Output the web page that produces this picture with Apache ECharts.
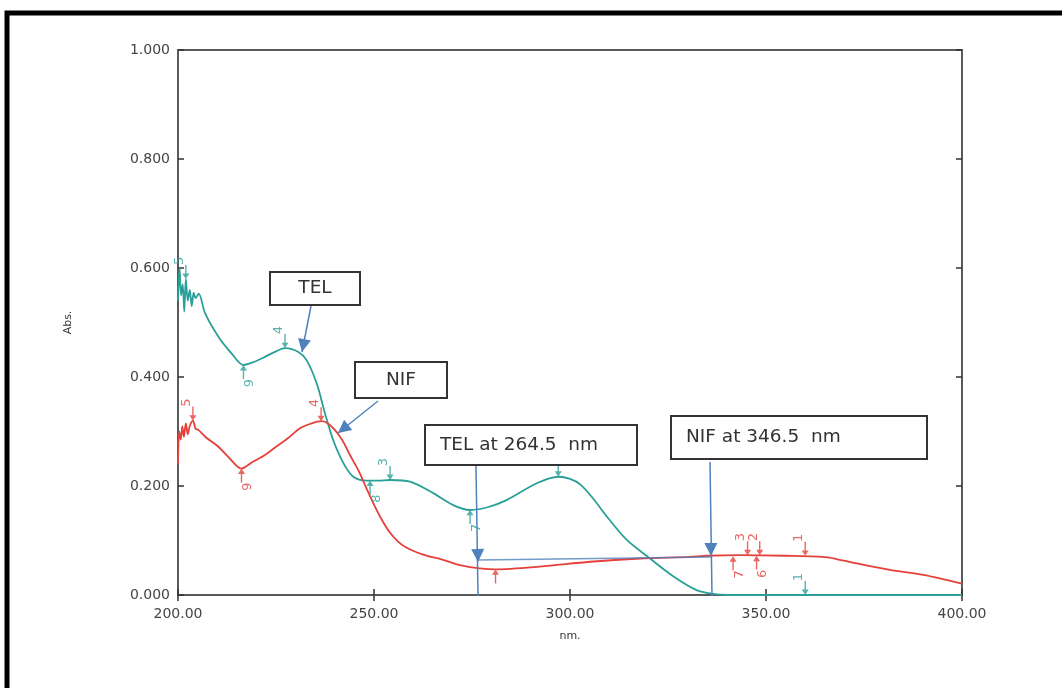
<!DOCTYPE html>
<html><head><meta charset="utf-8">
<script src="https://cdn.jsdelivr.net/npm/echarts@6/dist/echarts.min.js"></script>
<style>html,body{margin:0;padding:0;background:#fff}#c{width:1062px;height:688px}</style>
</head><body><div id="c"></div>
<script>
// ---- data ----
const xTicks = [200, 250, 300, 350, 400];
const yTicks = [0, 0.2, 0.4, 0.6, 0.8, 1.0];
const telX = [200,200.4,200.8,201.2,201.6,202,202.5,203,203.5,204,204.5,205.3,206.9,210.3,213.7,216.7,219.5,222.2,225,227.3,230.7,232.8,235.4,237.5,239.6,242.2,244.7,248.1,251,254.1,259.2,265.1,270.2,274.5,279,283.8,291.5,297,300,302.6,305.8,309.4,314.5,320.4,326.4,332.3,336.5,340,400];
const telY = [0.54,0.60,0.55,0.57,0.52,0.58,0.54,0.56,0.53,0.555,0.545,0.553,0.517,0.474,0.443,0.422,0.428,0.437,0.447,0.453,0.446,0.431,0.388,0.333,0.284,0.242,0.217,0.21,0.21,0.211,0.208,0.187,0.165,0.156,0.161,0.174,0.205,0.217,0.213,0.203,0.178,0.144,0.101,0.067,0.034,0.009,0.002,0,0];
const nifX = [200,200.3,200.7,201.1,201.5,202,202.5,203,203.8,204.5,205.2,207,210.3,213,216.2,219,222.2,225,228.1,231.1,234.1,236.5,238,240,242,244,246,248,250,252,254,256,258,261,264,267,271.9,277,281,292.3,305.1,317.9,330.6,334.9,343.4,355,364.6,368,373.1,381.6,390.1,400];
const nifY = [0.24,0.30,0.285,0.31,0.29,0.315,0.295,0.31,0.32,0.305,0.303,0.29,0.272,0.252,0.232,0.244,0.257,0.272,0.288,0.306,0.315,0.319,0.316,0.303,0.283,0.255,0.229,0.197,0.166,0.138,0.115,0.099,0.088,0.078,0.071,0.066,0.055,0.049,0.047,0.052,0.061,0.067,0.07,0.072,0.073,0.072,0.07,0.066,0.058,0.046,0.037,0.021];
// peak picks: [nm, abs, label]
const telPeaks = [[202,0.58,'5'],[227.3,0.453,'4'],[254.1,0.211,'3'],[297,0.217,'2'],[360,0,'1']];
const telValleys = [[216.7,0.422,'9'],[249,0.21,'8'],[274.5,0.156,'7']];
const nifPeaks = [[203.8,0.32,'5'],[236.5,0.319,'4'],[345.3,0.073,'3'],[348.4,0.073,'2'],[360,0.072,'1']];
const nifValleys = [[216.2,0.232,'9'],[281,0.047,''],[341.6,0.071,'7'],[347.6,0.072,'6']];

const TEAL = '#2a9f98', RED = '#e5403a', BLUE = '#4f81bd';
const downArrow = 'path://M3.3,0 L4.7,0 L4.7,8 L7.5,8 L4,13 L0.5,8 L3.3,8 Z';
const upArrow = 'path://M4,0 L7.5,5 L4.7,5 L4.7,13 L3.3,13 L3.3,5 L0.5,5 Z';

function zip(a, b) { return a.map((v, i) => [v, b[i]]); }
function picks(list, color, isPeak) {
  return {
    type: 'scatter', silent: true, z: 5,
    data: list.map(p => ({ value: [p[0], p[1]], name: p[2] })),
    symbol: isPeak ? downArrow : upArrow,
    symbolSize: [7, 14], symbolKeepAspect: false,
    symbolOffset: [0, isPeak ? -7 : 7],
    itemStyle: { color: color },
    label: {
      show: true, formatter: '{b}', color: color, fontSize: 13,
      fontFamily: 'DejaVu Sans, Liberation Sans', rotate: 90,
      position: isPeak ? 'top' : 'bottom', distance: 4
    }
  };
}

const chart = echarts.init(document.getElementById('c'), null, { renderer: 'canvas' });
const axisCol = '#5a5a5a';
const lblFont = { color: '#444', fontSize: 14, fontFamily: 'DejaVu Sans, Liberation Sans' };

const option = {
  backgroundColor: '#fff',
  animation: false,
  grid: { left: 178, top: 50, width: 784, height: 545, show: true, borderColor: axisCol, borderWidth: 2 },
  xAxis: [{
    type: 'value', min: xTicks[0], max: xTicks[xTicks.length - 1], interval: 50,
    name: 'nm.', nameLocation: 'middle', nameGap: 36,
    nameTextStyle: { color: '#333', fontSize: 11, fontFamily: 'DejaVu Sans, Liberation Sans' },
    axisLine: { show: true, lineStyle: { color: axisCol, width: 2 } },
    axisTick: { show: true, inside: true, length: 6, lineStyle: { color: '#333', width: 1.5 } },
    axisLabel: Object.assign({ formatter: v => v.toFixed(2), margin: 12 }, lblFont),
    splitLine: { show: false }
  }, {
    type: 'value', position: 'top', min: 200, max: 400, interval: 50,
    axisLine: { show: true, lineStyle: { color: axisCol, width: 2 } },
    axisTick: { show: true, inside: true, length: 6, lineStyle: { color: '#333', width: 1.5 } },
    axisLabel: { show: false }, splitLine: { show: false }
  }],
  yAxis: [{
    type: 'value', min: yTicks[0], max: yTicks[yTicks.length - 1], interval: 0.2,
    name: 'Abs.', nameLocation: 'middle', nameGap: 104,
    nameTextStyle: { color: '#333', fontSize: 11, fontFamily: 'DejaVu Sans, Liberation Sans' },
    axisLine: { show: true, lineStyle: { color: axisCol, width: 2 } },
    axisTick: { show: true, inside: true, length: 6, lineStyle: { color: '#333', width: 1.5 } },
    axisLabel: Object.assign({ formatter: v => v.toFixed(3), margin: 8 }, lblFont),
    splitLine: { show: false }
  }, {
    type: 'value', position: 'right', min: 0, max: 1, interval: 0.2,
    axisLine: { show: true, lineStyle: { color: axisCol, width: 2 } },
    axisTick: { show: true, inside: true, length: 6, lineStyle: { color: '#333', width: 1.5 } },
    axisLabel: { show: false }, splitLine: { show: false }
  }],
  series: [
    { name: 'TEL', type: 'line', data: zip(telX, telY), showSymbol: false, smooth: 0.3,
      lineStyle: { color: TEAL, width: 1.8 }, z: 3 },
    { name: 'NIF', type: 'line', data: zip(nifX, nifY), showSymbol: false, smooth: 0.3,
      lineStyle: { color: RED, width: 1.8 }, z: 3 },
    picks(telPeaks, TEAL, true), picks(telValleys, TEAL, false),
    picks(nifPeaks, RED, true), picks(nifValleys, RED, false)
  ]
};
chart.setOption(option);

// ---- annotations (boxes + blue arrows) ----
function arrow(x1, y1, x2, y2, headAt) {
  const hx = headAt ? headAt[0] : x2, hy = headAt ? headAt[1] : y2;
  const ang = Math.atan2(hy - y1, hx - x1);
  const L = 13, W = 6.5;
  const bx = hx - L * Math.cos(ang), by = hy - L * Math.sin(ang);
  const px = -Math.sin(ang) * W, py = Math.cos(ang) * W;
  return [
    { type: 'line', shape: { x1, y1, x2, y2 }, style: { stroke: BLUE, lineWidth: 1.5 }, z: 20 },
    { type: 'polygon', shape: { points: [[hx, hy], [bx + px, by + py], [bx - px, by - py]] }, style: { fill: BLUE }, z: 20 }
  ];
}
function box(x, y, w, h, text, align) {
  return {
    type: 'group', z: 30, children: [
      { type: 'rect', shape: { x, y, width: w, height: h }, style: { fill: '#fff', stroke: '#333', lineWidth: 2 }, z: 30 },
      { type: 'text', x: align === 'left' ? x + 15 : x + w / 2, y: y + h / 2, z: 31,
        style: { text, fill: '#333', fontSize: 18.5, fontFamily: 'DejaVu Sans, Liberation Sans',
                 align: align === 'left' ? 'left' : 'center', verticalAlign: 'middle' } }
    ]
  };
}
const g = [];
g.push({ type: 'rect', shape: { x: 7, y: 13, width: 1070, height: 700 }, style: { fill: 'none', stroke: '#000', lineWidth: 5 }, silent: true, z: 50 });
g.push(...arrow(311, 306, 302, 352));
g.push(...arrow(378, 401, 338, 433));
g.push(...arrow(476, 466, 478, 596, [478, 562]));
g.push({ type: 'line', shape: { x1: 478, y1: 560, x2: 712, y2: 557 }, style: { stroke: BLUE, lineWidth: 1.5, opacity: 0.8 }, z: 19 });
g.push(...arrow(710, 462, 712, 596, [711, 556]));
g.push(box(270, 272, 90, 33, 'TEL'));
g.push(box(355, 362, 92, 36, 'NIF'));
g.push(box(425, 425, 212, 40, 'TEL at 264.5  nm', 'left'));
g.push(box(671, 416, 256, 43, 'NIF at 346.5  nm', 'left'));
chart.setOption({ graphic: g });
</script>
</body></html>
